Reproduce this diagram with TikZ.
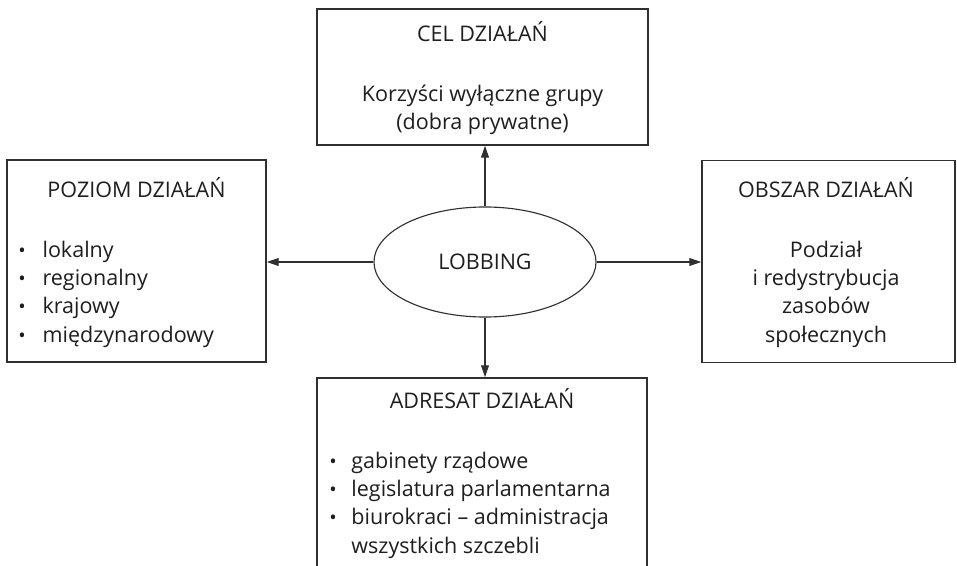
\documentclass[tikz,border=0pt]{standalone}
\usepackage{fontspec}
\setmainfont{Open Sans}
\usetikzlibrary{shapes.geometric, arrows.meta, positioning}
\definecolor{frameGray}{HTML}{303030}
\definecolor{inkGray}{HTML}{1E1E1E}
\newcommand{\dotmark}{{\fontsize{14}{14}\selectfont\textbullet}}

\tikzset{
  panel/.style={draw=frameGray, line width=1pt, inner sep=0pt},
  label/.style={text=inkGray, inner sep=0pt, font=\fontsize{15.3}{20.2}\selectfont},
  core/.style={ellipse, draw=frameGray, line width=0.8pt, inner sep=0pt,
    minimum width=5.55cm, minimum height=2.75cm},
  link/.style={draw=frameGray, line width=0.8pt,
    -{Triangle[length=8.5pt, width=5.6pt]}}
}

\begin{document}
\begin{tikzpicture}[x=0.025cm, y=-0.025cm]
  \clip (0,0) rectangle (957,565);

  % centre
  \node[core, label] (lobbing) at (485,262) {LOBBING};

  % top: CEL
  \node[panel, minimum width=8.275cm, minimum height=3.4cm] (cel) at (482.5,77) {};
  \node[label, anchor=base] (celT) at (482.5,42) {CEL DZIAŁAŃ};
  \node[label, anchor=base] (celB) at (482.5,101)
    {\begin{tabular}[t]{@{}c@{}}Korzyści wyłączne grupy\\(dobra prywatne)\end{tabular}};

  % left: POZIOM
  \node[panel, minimum width=6.475cm, minimum height=5.05cm] (poziom) at (136.5,261) {};
  \node[label, anchor=base] (poziomT) at (136.5,197) {POZIOM DZIAŁAŃ};
  \node[label, anchor=base west] (poziomB) at (18,257)
    {\begin{tabular}[t]{@{}l@{\hspace{12pt}}l@{}}
      \dotmark & lokalny\\
      \dotmark & regionalny\\
      \dotmark & krajowy\\
      \dotmark & międzynarodowy
    \end{tabular}};

  % right: OBSZAR
  \node[panel, minimum width=6.325cm, minimum height=5.05cm] (obszar) at (828.5,261.5) {};
  \node[label, anchor=base] (obszarT) at (826,197) {OBSZAR DZIAŁAŃ};
  \node[label, anchor=base] (obszarB) at (826,257)
    {\begin{tabular}[t]{@{}c@{}}Podział\\i redystrybucja\\zasobów\\społecznych\end{tabular}};

  % bottom: ADRESAT
  \node[panel, minimum width=8.25cm, minimum height=6cm] (adresat) at (482,498) {};
  \node[label, anchor=base] (adresatT) at (482,408) {ADRESAT DZIAŁAŃ};
  \node[label, anchor=base west] (adresatB) at (329,468)
    {\begin{tabular}[t]{@{}l@{\hspace{10.5pt}}l@{}}
      \dotmark & gabinety rządowe\\
      \dotmark & legislatura parlamentarna\\
      \dotmark & biurokraci -- administracja\\
               & wszystkich szczebli
    \end{tabular}};

  % arrows
  \draw[link] (lobbing.north) -- (lobbing.north |- cel.south);
  \draw[link] (lobbing.south) -- (lobbing.south |- adresat.north);
  \draw[link] (lobbing.west) -- (lobbing.west -| poziom.east);
  \draw[link] (lobbing.east) -- (lobbing.east -| obszar.west);
\end{tikzpicture}
\end{document}
